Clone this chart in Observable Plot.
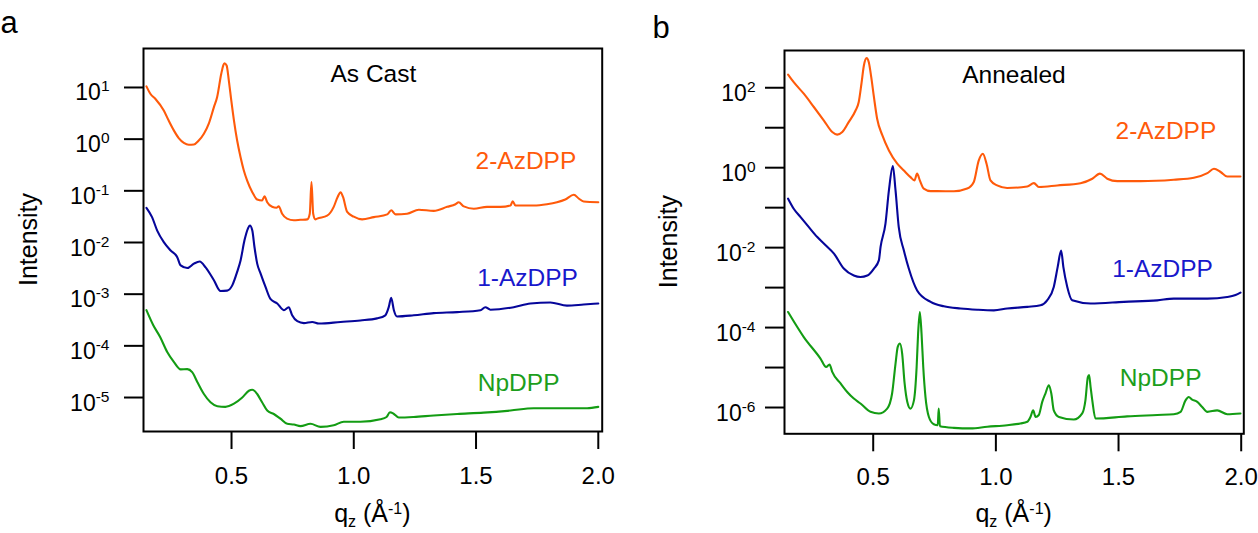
<!DOCTYPE html>
<html><head><meta charset="utf-8">
<script src="https://cdn.jsdelivr.net/npm/d3@7"></script>
<script src="https://cdn.jsdelivr.net/npm/@observablehq/plot@0.6"></script>
<style>
body{margin:0;background:#fff;}
#chart{position:relative;width:1258px;height:533px;font-family:"Liberation Sans",Arial,sans-serif;}
#chart svg{position:absolute;top:0;}
</style></head><body><div id="chart"></div>
<script>
// ---------- data ----------
const seriesNames = ["2-AzDPP", "1-AzDPP", "NpDPP"];
const panelTitles = ["As Cast", "Annealed"];
const panelLetters = ["a", "b"];
const xTicks = [0.5, 1.0, 1.5, 2.0];
const yTicksA = [1e1, 1e0, 1e-1, 1e-2, 1e-3, 1e-4, 1e-5];
const yTicksB = [1e2, 1e1, 1e0, 1e-1, 1e-2, 1e-3, 1e-4, 1e-5, 1e-6];

// Panel a: As Cast
const qCast2Az = [0.152,0.168,0.189,0.223,0.243,0.264,0.284,0.305,0.325,0.346,0.366,0.387,0.407,0.428,0.441,0.458,0.466,0.471,0.48,0.489,0.499,0.51,0.523,0.537,0.55,0.564,0.585,0.605,0.625,0.635,0.646,0.666,0.684,0.693,0.707,0.727,0.755,0.782,0.81,0.82,0.827,0.834,0.843,0.85,0.891,0.918,0.934,0.946,0.956,0.973,1.0,1.034,1.082,1.137,1.153,1.171,1.218,1.266,1.327,1.382,1.416,1.429,1.45,1.491,1.545,1.6,1.641,1.65,1.661,1.736,1.79,1.831,1.865,1.9,1.92,1.94,2.0];
const iCast2Az = [10.5,7.55,6.0,3.59,2.29,1.48,1.05,0.85,0.78,0.79,0.94,1.27,2.0,4.17,6.46,18.4,26.6,29.5,26.6,13.6,5.62,2.29,0.94,0.447,0.251,0.158,0.094,0.068,0.065,0.078,0.060,0.049,0.047,0.050,0.036,0.029,0.027,0.0275,0.028,0.036,0.148,0.036,0.028,0.029,0.033,0.049,0.076,0.094,0.076,0.039,0.0316,0.028,0.031,0.035,0.042,0.035,0.036,0.043,0.041,0.049,0.055,0.060,0.050,0.045,0.049,0.049,0.052,0.063,0.052,0.052,0.055,0.060,0.068,0.084,0.071,0.062,0.060];
const qCast1Az = [0.152,0.175,0.196,0.223,0.25,0.278,0.292,0.319,0.346,0.37,0.394,0.428,0.455,0.482,0.503,0.523,0.537,0.553,0.567,0.575,0.585,0.594,0.605,0.619,0.639,0.659,0.687,0.714,0.734,0.748,0.769,0.796,0.83,0.857,0.946,1.027,1.095,1.129,1.143,1.153,1.164,1.177,1.245,1.327,1.423,1.518,1.538,1.559,1.654,1.722,1.804,1.872,1.94,2.0];
const iCast1Az = [0.047,0.031,0.017,0.0102,0.0071,0.0052,0.0036,0.0032,0.0039,0.0043,0.0033,0.00186,0.00115,0.00117,0.00148,0.0027,0.0045,0.011,0.0186,0.0214,0.017,0.0081,0.0039,0.0025,0.00138,0.00081,0.00066,0.00049,0.00056,0.00039,0.0003,0.000275,0.00029,0.00027,0.00029,0.00031,0.00034,0.00039,0.00056,0.00085,0.00049,0.00037,0.00039,0.00043,0.00045,0.00049,0.00056,0.0005,0.00056,0.00066,0.00069,0.0006,0.00063,0.00066];
const qCastNp = [0.152,0.18,0.208,0.237,0.264,0.292,0.319,0.339,0.36,0.387,0.414,0.442,0.475,0.51,0.544,0.571,0.585,0.605,0.625,0.646,0.673,0.7,0.728,0.755,0.782,0.823,0.864,0.918,0.959,1.027,1.109,1.134,1.148,1.164,1.184,1.245,1.327,1.423,1.531,1.641,1.736,1.872,1.954,2.0];
const iCastNp = [0.00049,0.00025,0.000148,7.6e-5,4.9e-5,3.5e-5,3.55e-5,3.1e-5,2.0e-5,1.17e-5,8.1e-6,6.8e-6,6.6e-6,7.6e-6,1.0e-5,1.35e-5,1.41e-5,1.17e-5,8.1e-6,5.6e-6,4.8e-6,3.9e-6,3.1e-6,3.0e-6,2.8e-6,3.1e-6,2.7e-6,2.9e-6,3.4e-6,3.4e-6,3.8e-6,4.2e-6,5.2e-6,4.8e-6,4.1e-6,4.2e-6,4.5e-6,4.8e-6,5.1e-6,5.6e-6,6.2e-6,6.2e-6,6.2e-6,6.6e-6];

// Panel b: Annealed
const qAnn2Az = [0.153,0.176,0.217,0.258,0.299,0.333,0.353,0.374,0.4,0.428,0.441,0.452,0.462,0.473,0.482,0.492,0.503,0.516,0.537,0.564,0.598,0.625,0.652,0.668,0.679,0.69,0.706,0.734,0.761,0.829,0.883,0.91,0.93,0.947,0.962,0.978,1.005,1.046,1.128,1.155,1.175,1.25,1.345,1.393,1.424,1.454,1.495,1.59,1.725,1.807,1.862,1.889,1.916,1.943,1.997];
const iAnn2Az = [214,138,71,33,15.1,7.8,6.7,7.8,13.8,27,44,126,360,550,435,184,58,16.8,6.5,2.7,1.26,0.85,0.58,0.48,0.71,0.48,0.30,0.26,0.26,0.257,0.30,0.44,1.51,2.24,1.26,0.48,0.36,0.31,0.34,0.41,0.33,0.36,0.41,0.53,0.71,0.53,0.46,0.46,0.50,0.56,0.73,0.94,0.78,0.60,0.60];
const qAnn1Az = [0.153,0.176,0.204,0.237,0.272,0.306,0.34,0.38,0.421,0.448,0.476,0.503,0.523,0.53,0.55,0.564,0.58,0.591,0.604,0.625,0.645,0.679,0.734,0.788,0.856,0.924,0.992,1.046,1.128,1.182,1.209,1.236,1.252,1.266,1.275,1.291,1.311,1.386,1.522,1.658,1.725,1.862,1.943,1.977,1.997];
const iAnn1Az = [0.168,0.094,0.058,0.033,0.0184,0.0115,0.0071,0.003,0.002,0.00184,0.002,0.003,0.0048,0.0104,0.04,0.27,1.1,0.27,0.033,0.0085,0.003,0.00085,0.00044,0.00034,0.0003,0.00028,0.00027,0.0003,0.00033,0.00036,0.00048,0.00104,0.0033,0.0085,0.0033,0.00104,0.00048,0.0004,0.00044,0.00048,0.00053,0.00053,0.00058,0.00065,0.00075];
const qAnnNp = [0.153,0.217,0.285,0.308,0.322,0.333,0.367,0.394,0.421,0.448,0.489,0.523,0.557,0.577,0.591,0.6,0.609,0.618,0.628,0.639,0.652,0.666,0.677,0.683,0.69,0.697,0.704,0.713,0.727,0.747,0.763,0.767,0.772,0.829,0.897,0.965,1.046,1.1,1.128,1.141,1.152,1.162,1.175,1.189,1.202,1.216,1.226,1.236,1.257,1.318,1.352,1.365,1.375,1.38,1.386,1.393,1.406,1.535,1.658,1.725,1.753,1.773,1.786,1.8,1.821,1.841,1.862,1.902,1.943,1.997];
const iAnnNp = [2.45e-4,5.8e-5,1.68e-5,1.03e-5,1.19e-5,7.8e-6,4.0e-6,2.45e-6,1.68e-6,1.26e-6,7.8e-7,7.1e-7,9.4e-7,2.24e-6,1.26e-5,3.3e-5,4.0e-5,2.24e-5,4.0e-6,1.38e-6,9.4e-7,1.51e-6,1.03e-5,7.1e-5,2.45e-4,7.1e-5,1.03e-5,1.84e-6,5.8e-7,3.8e-7,3.6e-7,9.4e-7,3.4e-7,3.1e-7,3.0e-7,3.3e-7,3.6e-7,4.0e-7,4.4e-7,5.8e-7,8.5e-7,5.8e-7,6.5e-7,1.38e-6,2.24e-6,3.6e-6,2.24e-6,8.5e-7,5.8e-7,5.0e-7,7.1e-7,1.51e-6,5.8e-6,6.5e-6,3.3e-6,1.51e-6,5.3e-7,6.0e-7,6.5e-7,6.8e-7,7.8e-7,1.51e-6,1.84e-6,1.58e-6,1.38e-6,1.03e-6,7.8e-7,8.5e-7,6.8e-7,7.1e-7];

// ---------- styles ----------
const lineColors = ["#ff5a0a", "#06069a", "#139c13"];
const labelColors = ["#ff5a0a", "#1818cc", "#1c9e1c"];
const FONT = "Liberation Sans, Arial, sans-serif";

function rows(list) {
  const out = [];
  list.forEach(([name, qs, is]) => qs.forEach((q, i) => out.push({name, q, I: is[i]})));
  return out;
}
function expFmt(d) { const e = Math.round(Math.log10(d)); return "10^" + e; }

function panel(cfg) {
  const data = rows(cfg.series);
  const svg = Plot.plot({
    width: cfg.width, height: 533,
    marginLeft: cfg.ml, marginRight: cfg.mr, marginTop: cfg.mt, marginBottom: cfg.mb,
    style: {fontFamily: FONT, fontSize: "23px", color: "black", background: "transparent", overflow: "visible"},
    x: {domain: cfg.xDomain},
    y: {type: "log", domain: cfg.yDomain},
    color: {type: "ordinal", domain: seriesNames, range: lineColors},
    marks: [
      Plot.line(data, {x: "q", y: "I", z: "name", stroke: "name", strokeWidth: 2.1, curve: "monotone-x", strokeLinejoin: "round"}),
      Plot.axisX({ticks: xTicks, tickSize: 18, tickPadding: cfg.xPad, tickFormat: d => d.toFixed(1), strokeWidth: 2, fontSize: 24, label: null}),
      Plot.axisY({ticks: cfg.yTicks, tickSize: 19, tickPadding: cfg.yPad, tickFormat: cfg.yFmt, strokeWidth: 2, fontSize: 23, label: null}),
      Plot.frame({stroke: "black", strokeWidth: 2}),
      Plot.text([cfg.title], {text: d => d, frameAnchor: "top-left", dx: cfg.titlePos[0], dy: cfg.titlePos[1], lineAnchor: "bottom", textAnchor: "start", fontSize: 24.5, fill: "black"}),
      ...seriesNames.map((n, i) => Plot.text([n], {text: d => d, frameAnchor: "top-left", dx: cfg.labelPos[i][0], dy: cfg.labelPos[i][1], lineAnchor: "bottom", textAnchor: "start", fontSize: 24.5, fill: labelColors[i]}))
    ]
  });
  // superscript tick labels
  svg.querySelectorAll('g[aria-label="y-axis tick label"] text').forEach(t => {
    const s = t.textContent;
    if (!s || s.indexOf("^") < 0) return;
    const [b, e] = s.split("^");
    t.textContent = "";
    t.removeAttribute("y");
    t.setAttribute("dy", "13");
    const ns = "http://www.w3.org/2000/svg";
    const t1 = document.createElementNS(ns, "tspan"); t1.textContent = b; t.appendChild(t1);
    const t2 = document.createElementNS(ns, "tspan"); t2.textContent = e;
    t2.setAttribute("font-size", "15.5"); t2.setAttribute("dy", "-9"); t.appendChild(t2);
  });
  const g = d3.select(svg);
  // x-axis label
  const cx = cfg.ml + (cfg.width - cfg.ml - cfg.mr) / 2;
  const xl = g.append("text").attr("x", cx).attr("y", 522).attr("text-anchor", "middle")
    .attr("font-family", FONT).attr("font-size", 25).attr("fill", "black");
  xl.append("tspan").text("q");
  xl.append("tspan").attr("font-size", 16).attr("dy", 5).text("z");
  xl.append("tspan").attr("dy", -5).text(" (Å");
  xl.append("tspan").attr("font-size", 16).attr("dy", -8).text("-1");
  xl.append("tspan").attr("dy", 8).text(")");
  // y-axis label
  const cy = cfg.mt + (533 - cfg.mt - cfg.mb) / 2;
  g.append("text").attr("transform", `translate(37,${cy}) rotate(-90)`).attr("text-anchor", "middle")
    .attr("font-family", FONT).attr("font-size", 25).attr("fill", "black").text("Intensity");
  // panel letter
  g.append("text").attr("x", cfg.letterPos[0]).attr("y", cfg.letterPos[1])
    .attr("font-family", FONT).attr("font-size", 31).attr("fill", "black").text(cfg.letter);
  svg.style.left = cfg.left + "px";
  document.getElementById("chart").appendChild(svg);
}

panel({
  left: 0, width: 640, ml: 143, mr: 38.3, mt: 48, mb: 102,
  xDomain: [0.14, 2.016], yDomain: [2.2e-6, 56.8],
  yTicks: yTicksA, yFmt: expFmt, yPad: 15, xPad: 17,
  series: [[seriesNames[0], qCast2Az, iCast2Az], [seriesNames[1], qCast1Az, iCast1Az], [seriesNames[2], qCastNp, iCastNp]],
  title: panelTitles[0], titlePos: [187, 33],
  labelPos: [[332, 120.3], [333.7, 237], [334.3, 342.7]],
  letter: panelLetters[0], letterPos: [9, 33]
});
panel({
  left: 640, width: 618, ml: 144, mr: 14.7, mt: 50, mb: 99.7,
  xDomain: [0.1384, 2.0106], yDomain: [2.2e-7, 855],
  yTicks: yTicksB, yFmt: d => (Math.round(Math.log10(d)) % 2 === 0 ? expFmt(d) : ""), yPad: 10, xPad: 16.5,
  series: [[seriesNames[0], qAnn2Az, iAnn2Az], [seriesNames[1], qAnn1Az, iAnn1Az], [seriesNames[2], qAnnNp, iAnnNp]],
  title: panelTitles[1], titlePos: [177.7, 32.7],
  labelPos: [[331, 88.3], [327.7, 226], [335.3, 335]],
  letter: panelLetters[1], letterPos: [21, 38]
});
</script></body></html>
